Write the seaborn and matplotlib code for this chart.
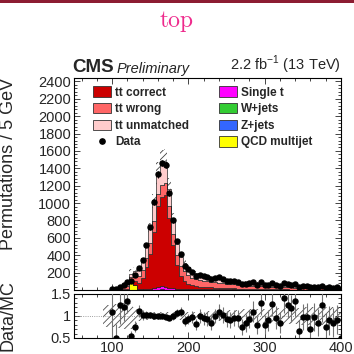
import numpy as np
import pandas as pd
import matplotlib
matplotlib.use("Agg")
import matplotlib.pyplot as plt
import seaborn as sns
from matplotlib.patches import Patch, Rectangle
from matplotlib.lines import Line2D
from matplotlib.ticker import MultipleLocator, FixedLocator

nan = float("nan")

# bin centres (GeV), 5 GeV bins
mass = [90, 95, 100, 105, 110, 115, 120, 125, 130, 135,
        140, 145, 150, 155, 160, 165, 170, 175, 180, 185,
        190, 195, 200, 205, 210, 215, 220, 225, 230, 235,
        240, 245, 250, 255, 260, 265, 270, 275, 280, 285,
        290, 295, 300, 305, 310, 315, 320, 325, 330, 335,
        340, 345, 350, 355, 360, 365, 370, 375, 380, 385,
        390, 395, 400]

tt_correct = [0, 0, 0, 1, 2, 4, 8, 17, 40, 70,
              130, 250, 400, 640, 940, 1030, 1060, 810, 505, 270,
              150, 95, 65, 45, 38, 30, 27, 24, 22, 20,
              18, 16, 14, 12, 10, 9, 8, 7, 6, 6,
              5, 5, 4, 4, 4, 3, 3, 3, 3, 2,
              2, 2, 2, 2, 2, 2, 1, 1, 1, 1,
              1, 1, 1]
tt_wrong = [1, 2, 3, 10, 14, 25, 32, 45, 65, 80,
            95, 110, 120, 130, 135, 140, 138, 130, 125, 118,
            112, 108, 100, 85, 80, 74, 70, 67, 64, 61,
            58, 56, 53, 50, 46, 45, 43, 41, 40, 38,
            36, 34, 33, 31, 30, 29, 27, 26, 25, 24,
            23, 23, 22, 21, 20, 19, 19, 18, 17, 17,
            16, 16, 15]
tt_unmatched = [1, 1, 2, 7, 10, 18, 24, 35, 59, 71,
                96, 133, 169, 208, 239, 250, 242, 203, 160, 127,
                107, 97, 86, 76, 69, 63, 60, 57, 54, 51,
                48, 46, 44, 42, 38, 38, 36, 35, 33, 31,
                30, 28, 27, 26, 24, 24, 23, 22, 21, 21,
                20, 19, 18, 17, 17, 16, 16, 15, 15, 14,
                14, 13, 13]
single_t = [0, 0, 1, 1, 1, 2, 2, 3, 3, 4,
            6, 9, 13, 18, 24, 28, 26, 20, 14, 10,
            8, 7, 6, 6, 5, 5, 5, 4, 4, 4,
            4, 3, 3, 3, 3, 3, 3, 3, 2, 2,
            2, 2, 2, 2, 2, 2, 2, 2, 2, 2,
            2, 1, 1, 1, 1, 1, 1, 1, 1, 1,
            1, 1, 1]
w_jets = [0, 0, 1, 1, 1, 1, 1, 1, 1, 2,
          2, 2, 3, 3, 4, 12, 4, 3, 3, 2,
          2, 2, 2, 2, 2, 2, 2, 2, 2, 2,
          2, 2, 2, 2, 10, 2, 2, 1, 1, 1,
          1, 1, 1, 1, 1, 1, 1, 1, 1, 1,
          1, 1, 1, 1, 1, 1, 1, 1, 1, 1,
          1, 1, 1]
z_jets = [0, 0, 0, 0, 0, 0, 0, 1, 1, 1,
          1, 1, 1, 1, 1, 1, 1, 1, 1, 1,
          1, 1, 1, 1, 1, 1, 1, 1, 1, 1,
          1, 1, 1, 1, 1, 1, 1, 1, 1, 1,
          1, 1, 1, 1, 1, 0, 0, 0, 0, 0,
          0, 0, 0, 0, 0, 0, 0, 0, 0, 0,
          0, 0, 0]
qcd = [0, 0, 0, 0, 0, 0, 0, 80, 55, 0,
       0, 0, 0, 0, 0, 0, 0, 0, 0, 0,
       0, 0, 0, 0, 0, 0, 0, 0, 0, 0,
       0, 0, 0, 0, 0, 0, 0, 0, 0, 0,
       0, 0, 0, 0, 0, 0, 0, 0, 0, 0,
       0, 0, 0, 0, 0, 0, 0, 0, 0, 0,
       0, 0, 0]
data = [0, 0, 8, 10, 35, 60, 90, 100, 170, 253,
        340, 515, 720, 1010, 1330, 1461, 1442, 1120, 800, 560,
        418, 276, 242, 211, 158, 175, 157, 144, 123, 139,
        144, 128, 109, 100, 100, 93, 70, 74, 77, 87,
        60, 92, 54, 58, 79, 57, 48, 76, 66, 59,
        64, 31, 43, 41, 29, 38, 32, 45, 27, 31,
        28, 29, 16]
ratio = [nan, nan, 1.09, 0.5, 1.24, 1.2, 1.35, 0.55, 0.76, 1.11,
         1.03, 1.02, 1.02, 1.01, 0.99, 1.0, 0.98, 0.96, 0.99, 1.06,
         1.1, 0.89, 0.93, 0.98, 0.81, 1.0, 0.95, 0.93, 0.84, 1.0,
         1.1, 1.03, 0.93, 0.91, 0.96, 0.95, 0.75, 0.84, 0.93, 1.1,
         0.8, 1.3, 0.8, 0.9, 1.28, 0.96, 0.85, 1.4, 1.26, 1.18,
         1.34, 0.67, 0.98, 0.98, 0.7, 0.98, 0.85, 1.24, 0.76, 0.9,
         0.85, 0.92, 0.5]
mc_rel_unc = [0.25, 0.25, 0.25, 0.27, 0.28, 0.3, 0.3, 0.3, 0.2, 0.12,
              0.1, 0.1, 0.1, 0.1, 0.1, 0.1, 0.1, 0.1, 0.1, 0.1,
              0.1, 0.1, 0.1, 0.1, 0.1, 0.1, 0.1, 0.11, 0.11, 0.12,
              0.12, 0.12, 0.13, 0.13, 0.14, 0.14, 0.15, 0.15, 0.15, 0.16,
              0.16, 0.17, 0.17, 0.17, 0.18, 0.18, 0.18, 0.18, 0.19, 0.19,
              0.19, 0.19, 0.2, 0.2, 0.2, 0.2, 0.2, 0.2, 0.2, 0.2,
              0.2, 0.2, 0.2]

labels = ["tt correct", "tt wrong", "tt unmatched", "Single t",
          "W+jets", "Z+jets", "QCD multijet"]
colors = {"tt correct": "#CC0000", "tt wrong": "#FF6666",
          "tt unmatched": "#FFCCCC", "Single t": "#FF00FF",
          "W+jets": "#33CC33", "Z+jets": "#3366FF",
          "QCD multijet": "#FFFF00"}
series = [tt_correct, tt_wrong, tt_unmatched, single_t, w_jets, z_jets, qcd]

sns.set_style("ticks")
plt.rcParams["font.family"] = ["Liberation Sans", "DejaVu Sans"]
plt.rcParams["hatch.linewidth"] = 0.6

x = np.array(mass, dtype=float)
edges = np.append(x - 2.5, x[-1] + 2.5)
df = pd.concat([pd.DataFrame({"mass": mass, "w": s, "comp": n})
                for n, s in zip(labels, series)], ignore_index=True)
total = np.sum(np.array(series, dtype=float), axis=0)
unc = np.array(mc_rel_unc)
d = np.array(data, dtype=float)
r = np.array(ratio, dtype=float)

fig = plt.figure(figsize=(3.54, 3.54), dpi=100)
ax = fig.add_axes([0.209, 0.1808, 0.754, 0.599])
axr = fig.add_axes([0.209, 0.0452, 0.754, 0.1243])

# stacked MC (last hue level ends up at the bottom)
hue_order = ["tt unmatched", "tt wrong", "tt correct", "Single t",
             "W+jets", "Z+jets", "QCD multijet"]
sns.histplot(data=df, x="mass", weights="w", hue="comp", hue_order=hue_order,
             multiple="stack", bins=[float(e) for e in edges], element="step", fill=True,
             palette=colors, alpha=1, linewidth=0.5, edgecolor="0.15",
             legend=False, ax=ax)

# MC uncertainty band
ax.fill_between(edges, np.append(total * (1 - unc), total[-1] * (1 - unc[-1])),
                np.append(total * (1 + unc), total[-1] * (1 + unc[-1])),
                step="post", facecolor="none", edgecolor="0.25", hatch="/////",
                linewidth=0, zorder=0.5)

m = d > 0
ax.errorbar(x[m], d[m], yerr=np.sqrt(d[m]), fmt="o", ms=3.6, color="black",
            elinewidth=0.7, capsize=0, zorder=5)

ax.set_xlim(50, 400)
ax.set_ylim(0, 2440)
ax.set_xlabel("")
ax.set_ylabel("Permutations / 5 GeV", fontsize=13, loc="top")
ax.yaxis.set_label_coords(-0.215, 1.0)
ax.yaxis.set_major_locator(FixedLocator(list(range(200, 2401, 200))))
ax.yaxis.set_minor_locator(MultipleLocator(40))
ax.xaxis.set_major_locator(MultipleLocator(100))
ax.xaxis.set_minor_locator(MultipleLocator(20))
ax.tick_params(axis="x", labelbottom=False)

# legend
handles = [Patch(facecolor=colors["tt correct"], edgecolor="0.2", lw=0.6, label="tt correct"),
           Patch(facecolor=colors["tt wrong"], edgecolor="0.2", lw=0.6, label="tt wrong"),
           Patch(facecolor=colors["tt unmatched"], edgecolor="0.2", lw=0.6, label="tt unmatched"),
           Line2D([], [], marker="o", ls="none", color="black", ms=3.8, label="Data"),
           Patch(facecolor=colors["Single t"], edgecolor="0.2", lw=0.6, label="Single t"),
           Patch(facecolor=colors["W+jets"], edgecolor="0.2", lw=0.6, label="W+jets"),
           Patch(facecolor=colors["Z+jets"], edgecolor="0.2", lw=0.6, label="Z+jets"),
           Patch(facecolor=colors["QCD multijet"], edgecolor="0.2", lw=0.6, label="QCD multijet")]
ax.legend(handles=handles, ncol=2, loc="upper left", bbox_to_anchor=(0.07, 0.96),
          frameon=False, prop={"weight": "bold", "size": 8.5}, handlelength=1.55,
          handleheight=0.95, handletextpad=0.35, labelspacing=0.38,
          columnspacing=2.5, borderaxespad=0, borderpad=0)

ax.text(-0.005, 1.01, "CMS", transform=ax.transAxes, fontsize=13.5,
        fontweight="bold", ha="left", va="bottom")
ax.text(0.16, 1.01, "Preliminary", transform=ax.transAxes, fontsize=10.5,
        fontstyle="italic", ha="left", va="bottom")
ax.text(1.0, 1.01, r"2.2 fb$^{\mathregular{-1}}$ (13 TeV)", transform=ax.transAxes,
        fontsize=10.5, ha="right", va="bottom")

# ratio panel
axr.fill_between(edges, np.append(1 - unc, 1 - unc[-1]), np.append(1 + unc, 1 + unc[-1]),
                 step="post", facecolor="none", edgecolor="0.3", hatch="/////",
                 linewidth=0, zorder=0.5)
axr.axhline(1.0, color="0.5", lw=0.6, ls=":", zorder=0.6)
mr = ~np.isnan(r)
rerr = 2 * np.sqrt(d[mr]) / total[mr]
axr.errorbar(x[mr], r[mr], yerr=rerr, fmt="o", ms=3.6, color="black",
             ecolor="0.45", elinewidth=0.8, capsize=0, zorder=5)
axr.set_xlim(50, 400)
axr.set_ylim(0.5, 1.5)
axr.set_yticks([0.5, 1.0, 1.5])
axr.set_yticklabels(["0.5", "1", "1.5"])
axr.yaxis.set_minor_locator(MultipleLocator(0.1))
axr.xaxis.set_major_locator(FixedLocator([100, 200, 300, 400]))
axr.xaxis.set_minor_locator(MultipleLocator(20))
axr.set_ylabel("Data/MC", fontsize=13)
axr.yaxis.set_label_coords(-0.215, 0.5)

for a in (ax, axr):
    a.tick_params(which="both", direction="in", top=True, right=True,
                  labelsize=10.5, width=0.6, pad=2)
    a.tick_params(which="major", length=4)
    a.tick_params(which="minor", length=2)
    for s in a.spines.values():
        s.set_linewidth(0.8)
        s.set_color("black")

# header decorations
fig.patches.append(Rectangle((0, 1 - 3 / 354), 1, 3 / 354, transform=fig.transFigure,
                             facecolor="#8C1D32", edgecolor="none"))
fig.text(0.5, 0.942, "top", color="#EE2A8C", fontsize=17, family="cmr10",
         ha="center", va="center")

fig.savefig("out.png", dpi=100)
